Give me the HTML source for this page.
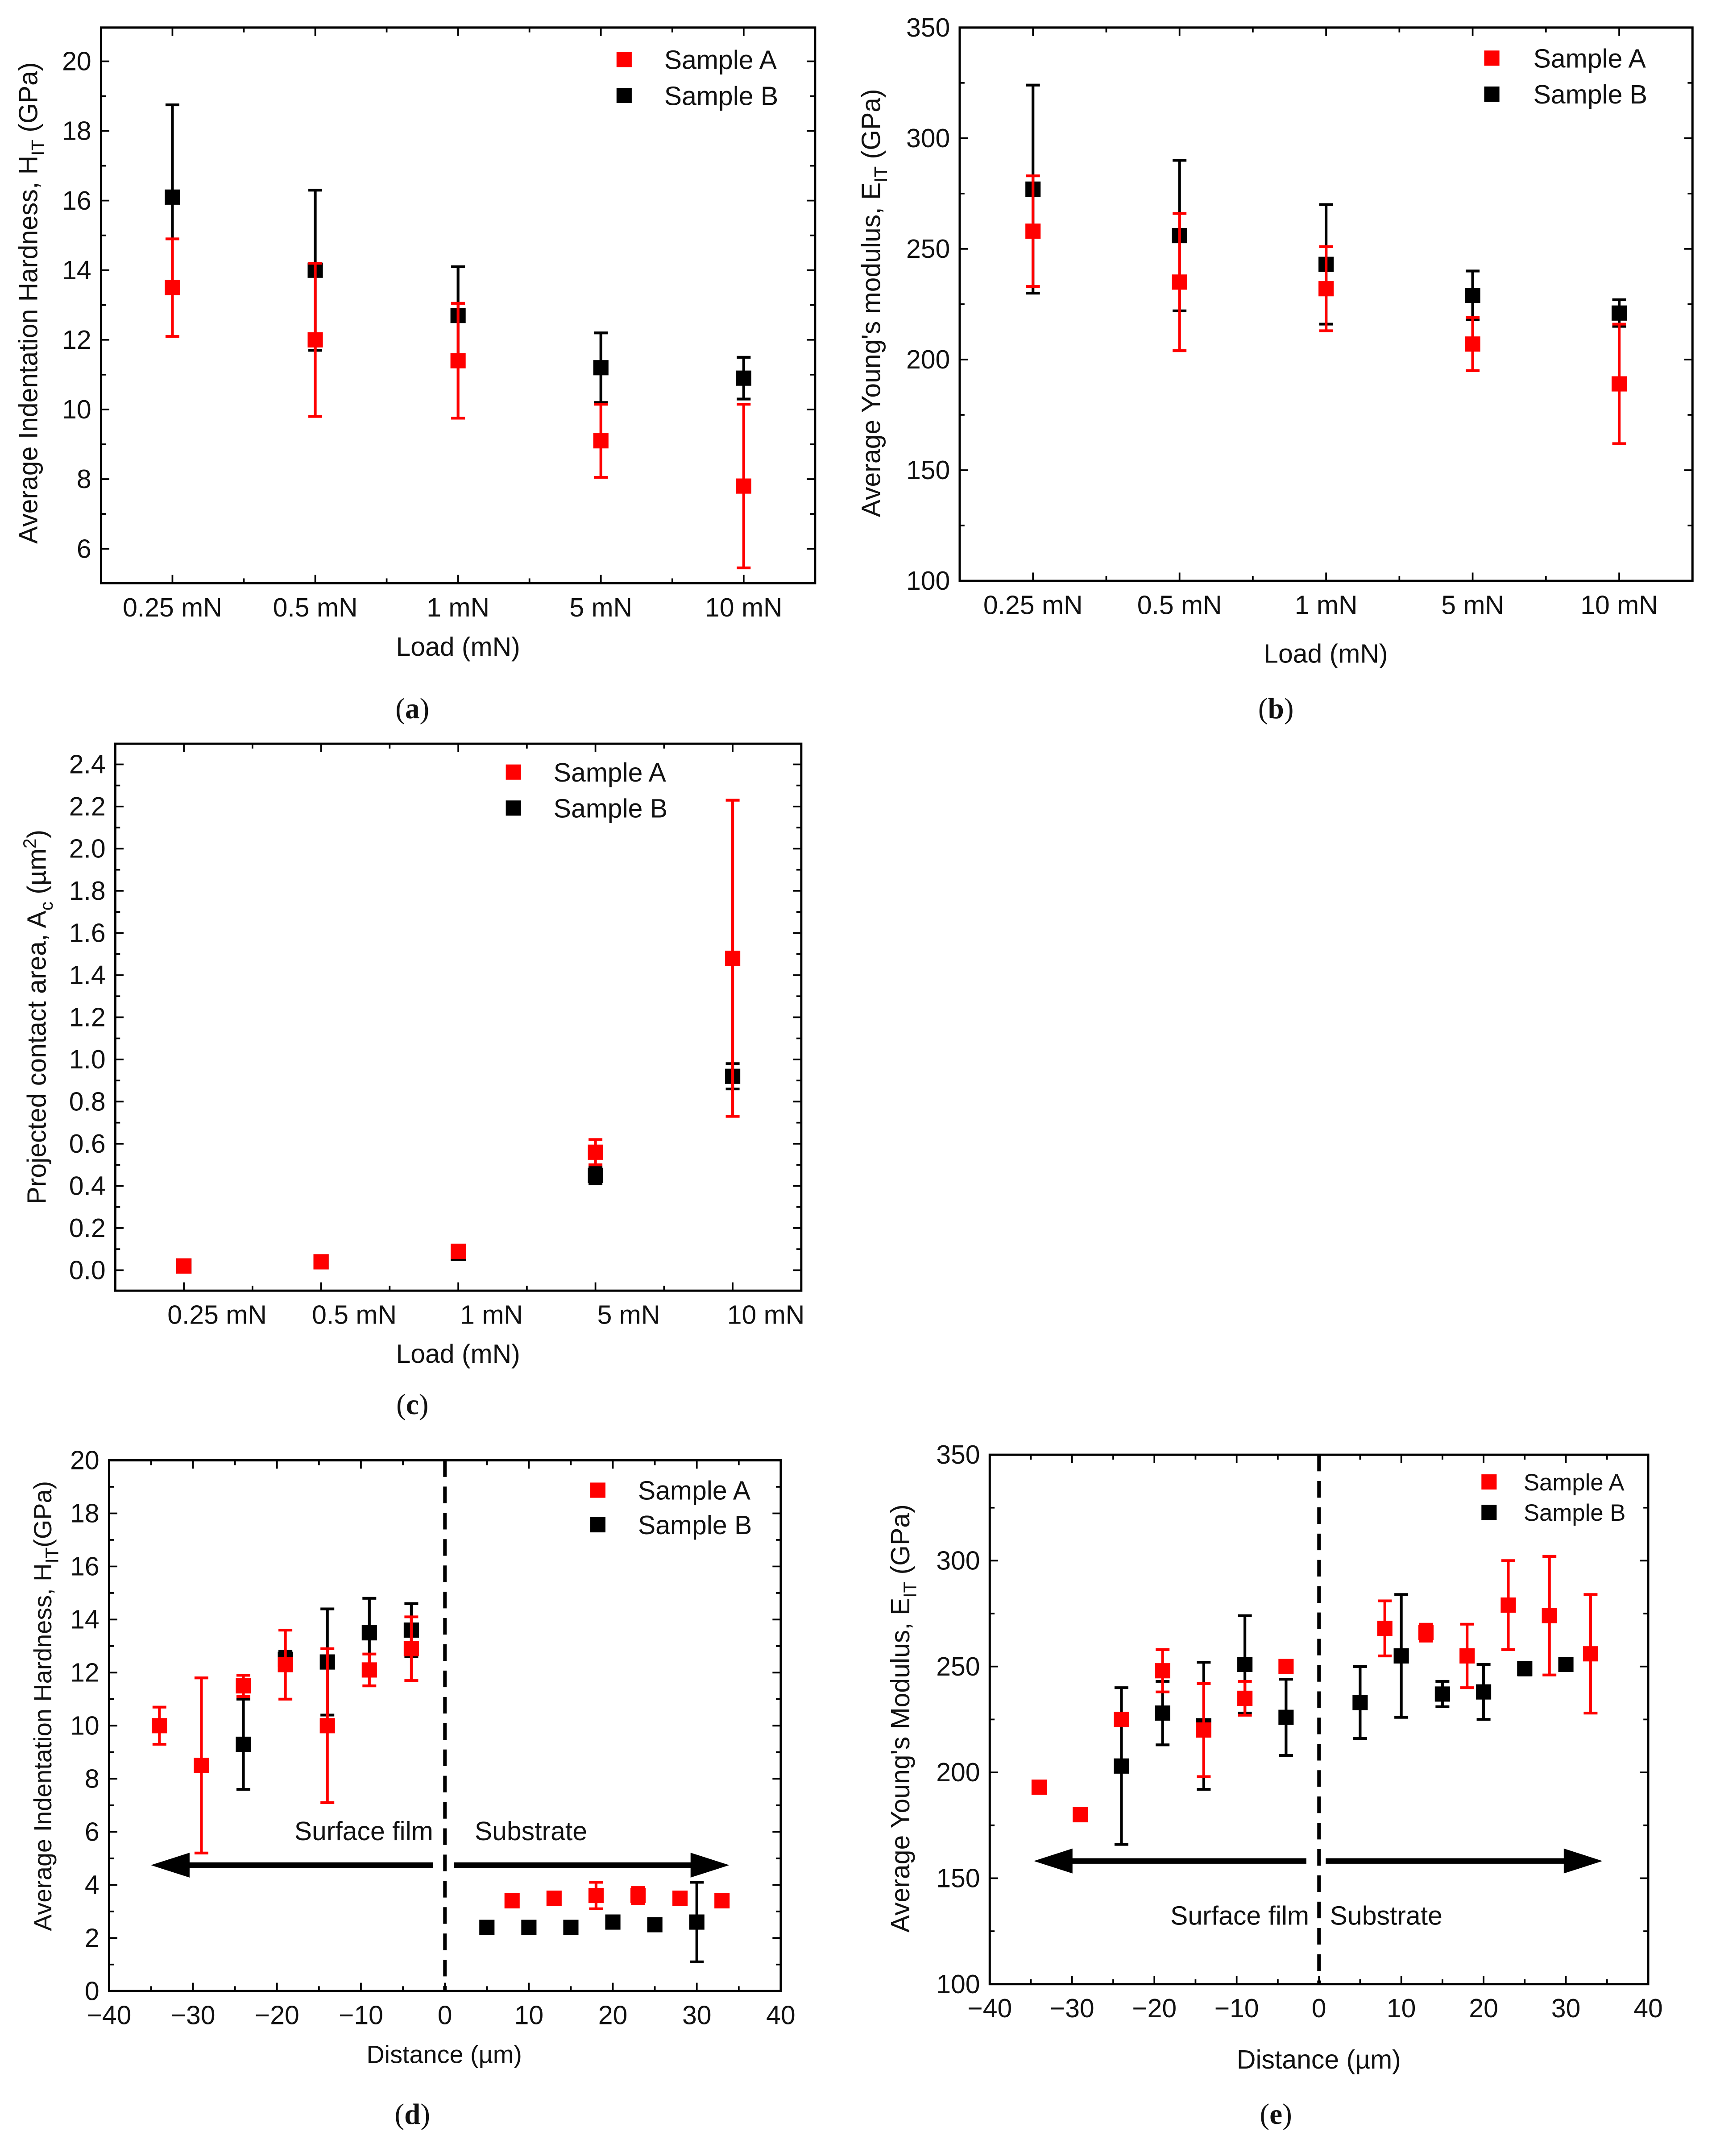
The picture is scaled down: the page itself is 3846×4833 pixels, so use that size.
<!DOCTYPE html>
<html><head><meta charset="utf-8"><style>
html,body{margin:0;padding:0;background:#fff;}
svg{display:block;}
text{font-family:"Liberation Sans",Arial,sans-serif;fill:#111;}
.cap{font-family:"Liberation Serif",serif;}
</style></head>
<body>
<svg id="fig" width="3846" height="4833" viewBox="0 0 1240 1558.2" xmlns="http://www.w3.org/2000/svg">
<rect width="1240" height="1558.2" fill="#fff"/>
</svg>
<script>
// ---- Panel a data ----
const aCats = ["0.25 mN","0.5 mN","1 mN","5 mN","10 mN"];
const aValsA = [13.5,12.0,11.4,9.1,7.8];
const aErrA = [1.4,2.2,1.65,1.05,2.35];
const aValsB = [16.1,14.0,12.7,11.2,10.9];
const aErrB = [2.65,2.3,1.4,1.0,0.6];
const aTicks = [6,8,10,12,14,16,18,20];
// ---- Panel b data ----
const bCats = ["0.25 mN","0.5 mN","1 mN","5 mN","10 mN"];
const bValsA = [258,235,232,207,189];
const bErrA = [25,31,19,12,27];
const bValsB = [277,256,243,229,221];
const bErrB = [47,34,27,11,6];
const bTicks = [100,150,200,250,300,350];
// ---- Panel c data ----
const cCats = ["0.25 mN","0.5 mN","1 mN","5 mN","10 mN"];
const cValsA = [0.02,0.04,0.09,0.56,1.48];
const cErrA = [0,0,0,0.06,0.75];
const cValsB = [0.02,0.04,0.08,0.45,0.92];
const cErrB = [0,0,0,0.04,0.06];
const cTicks = [0,0.2,0.4,0.6,0.8,1.0,1.2,1.4,1.6,1.8,2.0,2.2,2.4];
// ---- Panel d data ----
const dXA = [-34,-29,-24,-19,-14,-9,-4,8,13,18,23,28,33];
const dValsA = [10.0,8.5,11.5,12.3,10.0,12.1,12.9,3.4,3.5,3.6,3.6,3.5,3.4];
const dErrA = [0.7,3.3,0.4,1.3,2.9,0.6,1.2,0,0,0.5,0.3,0,0];
const dXB = [-24,-19,-14,-9,-4,5,10,15,20,25,30];
const dValsB = [9.3,12.5,12.4,13.5,13.6,2.4,2.4,2.4,2.6,2.5,2.6];
const dErrB = [1.7,0.3,2.0,1.3,1.0,0,0,0,0,0,1.5];
const dYTicks = [0,2,4,6,8,10,12,14,16,18,20];
const dXTicks = [-40,-30,-20,-10,0,10,20,30,40];
// ---- Panel e data ----
const eXA = [-34,-29,-24,-19,-14,-9,-4,8,13,18,23,28,33];
const eValsA = [193,180,225,248,220,235,250,268,266,255,279,274,256];
const eErrA = [0,0,0,10,22,8,0,13,4,15,21,28,28];
const eXB = [-24,-19,-14,-9,-4,5,10,15,20,25,30];
const eValsB = [203,228,222,251,226,233,255,237,238,249,251];
const eErrB = [37,15,30,23,18,17,29,6,13,3,0];
const eYTicks = [100,150,200,250,300,350];
const eXTicks = [-40,-30,-20,-10,0,10,20,30,40];

const NS="http://www.w3.org/2000/svg";
const svg=document.getElementById('fig');
function el(tag,attrs,parent,txt){const e=document.createElementNS(NS,tag);for(const k in attrs)e.setAttribute(k,attrs[k]);if(txt!==undefined)e.textContent=txt;(parent||svg).appendChild(e);return e;}
function grp(name){const g=document.createElementNS(NS,'g');


svg.appendChild(g);return g;}

function frame(g,box){
  const r=el('rect',{x:box.x0,y:box.y0,width:box.x1-box.x0,height:box.y1-box.y0,fill:'none',stroke:'#000','stroke-width':1.6},g);
  
  
}
function tick(g,x1,y1,x2,y2){el('line',{x1,y1,x2,y2,stroke:'#000','stroke-width':1.2},g);}
function yAxis(g,box,ys,ticks,fmt){
  ticks.forEach((t,i)=>{const y=ys(t);
    tick(g,box.x0,y,box.x0+6,y);tick(g,box.x1,y,box.x1-6,y);
    const lb=el('text',{x:box.x0-7,y:y+6.5,'font-size':19,'text-anchor':'end'},g,fmt(t));
    
    
    if(i<ticks.length-1){const ym=ys((t+ticks[i+1])/2);tick(g,box.x0,ym,box.x0+3.5,ym);tick(g,box.x1,ym,box.x1-3.5,ym);}
  });
}
function point(g,x,y,err,ys,v,color,name){
  const pg=document.createElementNS(NS,'g');
  
  
  g.appendChild(pg);
  if(err>0){const yt=ys(v+err),yb=ys(v-err);
    el('line',{x1:x,y1:yt,x2:x,y2:yb,stroke:color,'stroke-width':2},pg);
    el('line',{x1:x-5,y1:yt,x2:x+5,y2:yt,stroke:color,'stroke-width':2},pg);
    el('line',{x1:x-5,y1:yb,x2:x+5,y2:yb,stroke:color,'stroke-width':2},pg);}
  el('rect',{x:x-5.5,y:y-5.5,width:11,height:11,fill:color},pg);
}
function legend(g,mx,my1,my2,tx,fs,size){
  const l=document.createElementNS(NS,'g');
  
  
  g.appendChild(l);
  el('rect',{x:mx-size/2,y:my1-size/2,width:size,height:size,fill:'#f00'},l);
  el('rect',{x:mx-size/2,y:my2-size/2,width:size,height:size,fill:'#000'},l);
  el('text',{x:tx,y:my1+fs*0.36,'font-size':fs},l,'Sample A');
  el('text',{x:tx,y:my2+fs*0.36,'font-size':fs},l,'Sample B');
}
function label(g,x,y,txt,name,rot,fs){
  const t=el('text',{x,y,'font-size':fs||19,'text-anchor':'middle',transform:rot?`rotate(-90 ${x} ${y})`:''},g);
  t.innerHTML=txt;
  
  
  return t;
}
function caption(x,y,l){const t=el('text',{x,y,'font-size':21,'text-anchor':'middle',class:'cap'},svg);
  t.innerHTML='(<tspan font-weight="bold">'+l+'</tspan>)';
  
  }

function catPanel(name,box,ymin,ymax,cats,vA,eA,vB,eB,ticks,fmt,labOff){
  const g=grp(name);
  const ys=v=>box.y1-(v-ymin)/(ymax-ymin)*(box.y1-box.y0);
  const bw=(box.x1-box.x0)/cats.length;
  const xs=i=>box.x0+bw*(i+0.5);
  frame(g,box);yAxis(g,box,ys,ticks,fmt);
  cats.forEach((c,i)=>{const x=xs(i);tick(g,x,box.y1,x,box.y1-6);tick(g,x,box.y0,x,box.y0+6);
    if(i<cats.length-1){tick(g,x+bw/2,box.y1,x+bw/2,box.y1-3.5);tick(g,x+bw/2,box.y0,x+bw/2,box.y0+3.5);}
    const t=el('text',{x:x+(labOff||0),y:box.y1+24,'font-size':19,'text-anchor':'middle'},g,c);
    
    });
  vB.forEach((v,i)=>point(g,xs(i),ys(v),eB[i],ys,v,'#000','sample-b-point'));
  vA.forEach((v,i)=>point(g,xs(i),ys(v),eA[i],ys,v,'#f00','sample-a-point'));
  return g;
}
function numPanel(name,box,xmin,xmax,ymin,ymax,xA,vA,eA,xB,vB,eB,yt,xt){
  const g=grp(name);
  const ys=v=>box.y1-(v-ymin)/(ymax-ymin)*(box.y1-box.y0);
  const xs=v=>box.x0+(v-xmin)/(xmax-xmin)*(box.x1-box.x0);
  frame(g,box);yAxis(g,box,ys,yt,t=>String(t));
  xt.forEach((t,i)=>{const x=xs(t);tick(g,x,box.y1,x,box.y1-6);tick(g,x,box.y0,x,box.y0+6);
    if(i<xt.length-1){const xm=xs((t+xt[i+1])/2);tick(g,xm,box.y1,xm,box.y1-3.5);tick(g,xm,box.y0,xm,box.y0+3.5);}
    const l=el('text',{x,y:box.y1+24,'font-size':19,'text-anchor':'middle'},g,t<0?'\u2212'+(-t):String(t));
    
    });
  const dl=el('line',{x1:xs(0),y1:box.y0,x2:xs(0),y2:box.y1,stroke:'#000','stroke-width':2.5,'stroke-dasharray':'12,7'},g);
  
  
  vB.forEach((v,i)=>point(g,xs(xB[i]),ys(v),eB[i],ys,v,'#000','sample-b-point'));
  vA.forEach((v,i)=>point(g,xs(xA[i]),ys(v),eA[i],ys,v,'#f00','sample-a-point'));
  return g;
}
function arrows(g,y,lx0,lx1,rx0,rx1){
  const a=document.createElementNS(NS,'g');
  
  
  g.appendChild(a);
  el('line',{x1:lx0,y1:y,x2:lx1+20,y2:y,stroke:'#000','stroke-width':4},a);
  el('polygon',{points:`${lx1},${y} ${lx1+28},${y-9} ${lx1+28},${y+9}`,fill:'#000'},a);
  el('line',{x1:rx0,y1:y,x2:rx1-20,y2:y,stroke:'#000','stroke-width':4},a);
  el('polygon',{points:`${rx1},${y} ${rx1-28},${y-9} ${rx1-28},${y+9}`,fill:'#000'},a);
}

// Panel a
let g=catPanel('panel-a-hardness',{x0:73,y0:19.9,x1:589,y1:421.5},5.01,20.97,aCats,aValsA,aErrA,aValsB,aErrB,aTicks,t=>String(t));
legend(g,451,43,69,480,19,11);
label(g,27,219,'Average Indentation Hardness, H<tspan font-size="13" dy="5">IT</tspan><tspan dy="-5"> (GPa)</tspan>','y-axis-title',true);
label(g,331,474,'Load (mN)','x-axis-title');
caption(298,519,'a');
// Panel b
g=catPanel('panel-b-modulus',{x0:693.5,y0:19.9,x1:1223,y1:419.8},100,350,bCats,bValsA,bErrA,bValsB,bErrB,bTicks,t=>String(t));
legend(g,1078,42,68,1108,19,11);
label(g,636,219,'Average Young\'s modulus, E<tspan font-size="13" dy="5">IT</tspan><tspan dy="-5"> (GPa)</tspan>','y-axis-title',true);
label(g,958,479,'Load (mN)','x-axis-title');
caption(922,519,'b');
// Panel c
g=catPanel('panel-c-contact-area',{x0:83.3,y0:537.5,x1:579,y1:932.8},-0.097,2.498,cCats,cValsA,cErrA,cValsB,cErrB,cTicks,t=>t.toFixed(1),24);
legend(g,371,558,584,400,19,11);
label(g,33,735,'Projected  contact area, A<tspan font-size="13" dy="5">c</tspan><tspan dy="-5"> (\u00b5m</tspan><tspan font-size="13" dy="-7">2</tspan><tspan dy="7">)</tspan>','y-axis-title',true);
label(g,331,985,'Load (mN)','x-axis-title');
caption(298,1022,'c');
// Panel d
g=numPanel('panel-d-hardness-distance',{x0:78.8,y0:1055.4,x1:564.2,y1:1439},-40,40,0,20,dXA,dValsA,dErrA,dXB,dValsB,dErrB,dYTicks,dXTicks);
arrows(g,1348,313,109,328,527);
el('text',{x:313,y:1330,'font-size':19,'text-anchor':'end'},g,'Surface film');
el('text',{x:343,y:1330,'font-size':19},g,'Substrate');
legend(g,432,1077,1102,461,19,11);
label(g,37,1233,'Average Indentation Hardness, H<tspan font-size="13" dy="5">IT</tspan><tspan dy="-5">(GPa)</tspan>','y-axis-title',true,18);
label(g,321,1491,'Distance (\u00b5m)','x-axis-title',false,18);
caption(298,1535,'d');
// Panel e
g=numPanel('panel-e-modulus-distance',{x0:715.2,y0:1051.4,x1:1191,y1:1434},-40,40,100,350,eXA,eValsA,eErrA,eXB,eValsB,eErrB,eYTicks,eXTicks);
arrows(g,1345,944,747,958,1158);
el('text',{x:946,y:1391,'font-size':19,'text-anchor':'end'},g,'Surface film');
el('text',{x:961,y:1391,'font-size':19},g,'Substrate');
legend(g,1076,1071,1093,1101,17,11);
label(g,657,1242,'Average Young\'s Modulus, E<tspan font-size="13" dy="5">IT</tspan><tspan dy="-5"> (GPa)</tspan>','y-axis-title',true);
label(g,953,1495,'Distance (\u00b5m)','x-axis-title');
caption(922,1535,'e');
</script>
</body></html>
